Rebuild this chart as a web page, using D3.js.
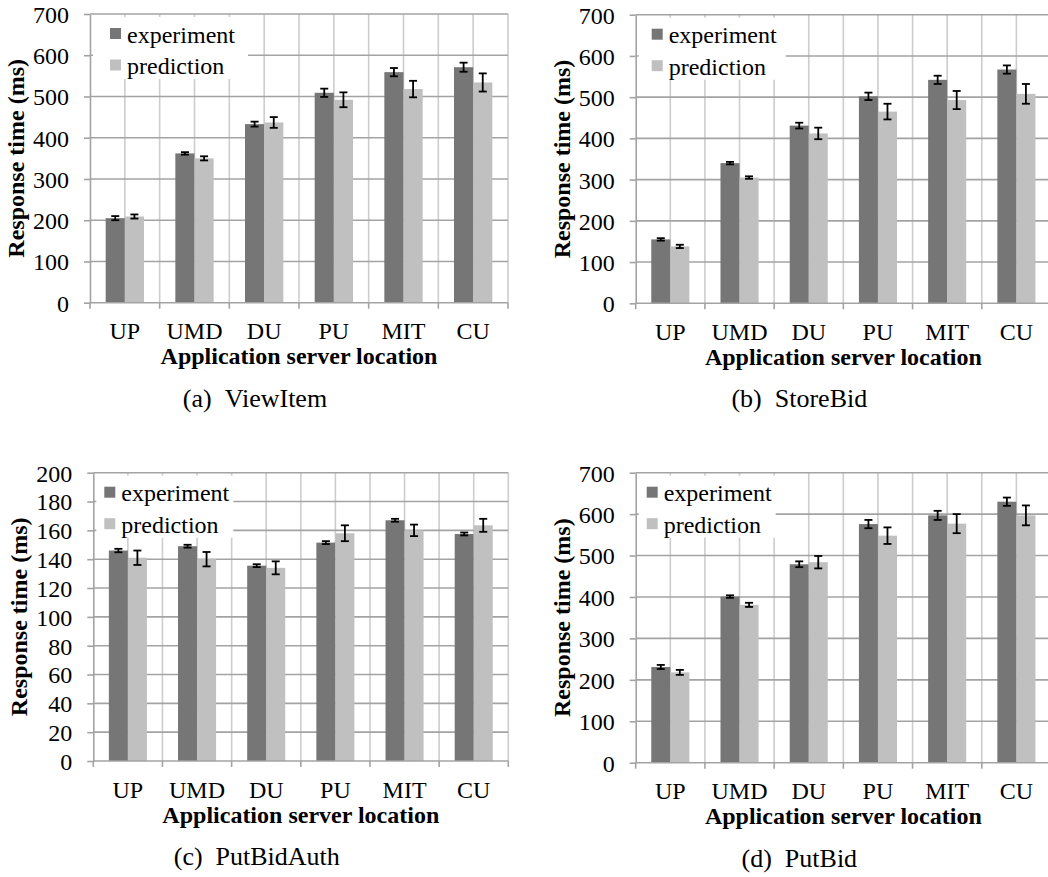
<!DOCTYPE html>
<html>
<head>
<meta charset="utf-8">
<script src="https://cdn.jsdelivr.net/npm/d3@7"></script>
<style>
  html, body { margin: 0; padding: 0; background: #fff; }
  svg { display: block; }
  svg text { font-family: "Liberation Serif", "Times New Roman", Times, serif !important; fill: #000; }
</style>
</head>
<body>
<svg id="chart" width="1048" height="877" font-family="Liberation Serif, Times New Roman, serif"></svg>
<script>
// Categories and series shared by all four panels
const categories = ["UP", "UMD", "DU", "PU", "MIT", "CU"];
const series = ["experiment", "prediction"];

// (a) ViewItem, ms
const viewItemExp      = [205, 362, 433, 509, 559, 571];
const viewItemExpErr   = [5, 3, 6, 10, 10, 11];
const viewItemPred     = [209, 350, 437, 492, 518, 534];
const viewItemPredErr  = [5, 5, 13, 18, 20, 22];

// (b) StoreBid, ms
const storeBidExp      = [155, 340, 431, 502, 542, 567];
const storeBidExpErr   = [3, 3, 7, 9, 10, 10];
const storeBidPred     = [138, 305, 412, 465, 493, 508];
const storeBidPredErr  = [4, 3, 14, 19, 22, 24];

// (c) PutBidAuth, ms
const putBidAuthExp     = [146, 149, 135.5, 151.5, 167, 157.5];
const putBidAuthExpErr  = [1.2, 1, 1, 1, 1, 1];
const putBidAuthPred    = [141, 140, 134, 158, 160, 163.5];
const putBidAuthPredErr = [5, 5, 4.5, 5.5, 4, 4.5];

// (d) PutBid, ms
const putBidExp      = [231, 401, 479, 576, 597, 630];
const putBidExpErr   = [5, 3, 7, 10, 11, 10];
const putBidPred     = [218, 381, 484, 548, 577, 597];
const putBidPredErr  = [6, 5, 15, 20, 23, 24];

// Y tick values per panel
const ticks700 = [0, 100, 200, 300, 400, 500, 600, 700];
const ticks200 = [0, 20, 40, 60, 80, 100, 120, 140, 160, 180, 200];

const yTitle = "Response time (ms)";
const xTitle = "Application server location";

const FONT = "'Liberation Serif', 'Times New Roman', Times, serif";
const colors = { experiment: "#767676", prediction: "#c0c0c0" };
const hGridColor = "#a3a3a3";
const vGridColor = "#cdcdcd";

const svg = d3.select("#chart");

function label(sel) {
  return sel.attr("font-family", FONT).style("font-family", FONT).attr("fill", "#000");
}

function drawPanel(p) {
  const g = svg.append("g");
  const y = d3.scaleLinear().domain([0, p.ticks[p.ticks.length - 1]]).range([p.yZero, p.yTop]);
  const x = d3.scaleBand().domain(categories).range([p.x0, p.x1]);
  const bw = x.bandwidth();
  const xs = d3.scaleBand().domain(series).range([0, bw]).paddingOuter(0.818);

  // vertical gridlines at category edges and centres
  const vLines = [];
  categories.forEach(c => { vLines.push(x(c)); vLines.push(x(c) + bw / 2); });
  vLines.push(p.x1);
  g.append("g").selectAll("line").data(vLines.slice(1)).join("line")
    .attr("x1", d => d).attr("x2", d => d)
    .attr("y1", p.yTop).attr("y2", p.yZero)
    .attr("stroke", vGridColor).attr("stroke-width", 1.6);

  // horizontal gridlines
  g.append("g").selectAll("line").data(p.ticks.slice(1)).join("line")
    .attr("x1", p.x0).attr("x2", p.x1)
    .attr("y1", d => y(d)).attr("y2", d => y(d))
    .attr("stroke", hGridColor).attr("stroke-width", 1.6);

  // bars
  const rows = categories.map((c, i) => ({
    cat: c,
    vals: [
      { s: "experiment", v: p.exp[i], e: p.expErr[i] },
      { s: "prediction", v: p.pred[i], e: p.predErr[i] }
    ]
  }));
  const groups = g.append("g").selectAll("g").data(rows).join("g")
    .attr("transform", d => `translate(${x(d.cat)},0)`);
  groups.selectAll("rect").data(d => d.vals).join("rect")
    .attr("x", d => xs(d.s)).attr("width", xs.bandwidth())
    .attr("y", d => y(d.v)).attr("height", d => y(0) - y(d.v))
    .attr("fill", d => colors[d.s]);

  // error bars
  const eb = groups.selectAll("g.err").data(d => d.vals).join("g").attr("class", "err");
  const cx = d => xs(d.s) + xs.bandwidth() / 2;
  eb.append("line")
    .attr("x1", cx).attr("x2", cx)
    .attr("y1", d => y(d.v - d.e)).attr("y2", d => y(d.v + d.e))
    .attr("stroke", "#000").attr("stroke-width", 1.8);
  [-1, 1].forEach(sgn => {
    eb.append("line")
      .attr("x1", d => cx(d) - 4).attr("x2", d => cx(d) + 4)
      .attr("y1", d => y(d.v + sgn * d.e)).attr("y2", d => y(d.v + sgn * d.e))
      .attr("stroke", "#000").attr("stroke-width", 1.8);
  });

  // y axis
  const yAxis = g.append("g").attr("transform", `translate(${p.x0},0)`)
    .call(d3.axisLeft(y).tickValues(p.ticks).tickSize(6).tickSizeOuter(0).tickPadding(15));
  yAxis.attr("font-family", FONT).attr("font-size", 24);
  yAxis.select(".domain").attr("stroke", hGridColor).attr("stroke-width", 1.6);
  yAxis.selectAll(".tick line").attr("stroke", hGridColor).attr("stroke-width", 1.6);
  label(yAxis.selectAll(".tick text")).attr("font-size", 24).attr("dy", "0.35em");

  // x axis line and boundary ticks
  g.append("line").attr("x1", p.x0).attr("x2", p.x1)
    .attr("y1", y(0)).attr("y2", y(0))
    .attr("stroke", hGridColor).attr("stroke-width", 1.6);
  const edges = categories.map(c => x(c)).concat([p.x1]);
  g.append("g").selectAll("line").data(edges).join("line")
    .attr("x1", d => d).attr("x2", d => d)
    .attr("y1", y(0)).attr("y2", y(0) + 6)
    .attr("stroke", hGridColor).attr("stroke-width", 1.6);
  label(g.append("g").selectAll("text").data(categories).join("text"))
    .attr("x", d => x(d) + bw / 2).attr("y", y(0) + 36.5)
    .attr("text-anchor", "middle").attr("font-size", 24).text(d => d);

  // axis titles
  const cxPlot = (p.x0 + p.x1) / 2;
  label(g.append("text")).attr("x", cxPlot).attr("y", y(0) + 61.5)
    .attr("text-anchor", "middle").attr("font-size", 24).attr("font-weight", "bold")
    .text(xTitle);
  label(g.append("text"))
    .attr("transform", `translate(${p.x0 - 66},${(p.yTop + p.yZero) / 2}) rotate(-90)`)
    .attr("text-anchor", "middle").attr("font-size", 24).attr("font-weight", "bold")
    .text(yTitle);

  // legend
  const lg = g.append("g");
  lg.append("rect").attr("x", p.x0 + 3).attr("y", p.yTop + 3)
    .attr("width", p.legendW).attr("height", 62).attr("fill", "#fff");
  const rowsY = [p.yTop + 19.5, p.yTop + 51];
  series.forEach((s, i) => {
    lg.append("rect").attr("x", p.x0 + p.legendX).attr("y", rowsY[i] - 5.5)
      .attr("width", 11).attr("height", 11).attr("fill", colors[s]);
    label(lg.append("text")).attr("x", p.x0 + p.legendX + 17).attr("y", rowsY[i] + 9)
      .attr("font-size", 24).text(s);
  });

  // caption
  label(g.append("text")).attr("x", cxPlot - 44).attr("y", y(0) + 104)
    .attr("text-anchor", "middle").attr("font-size", 26)
    .text(p.caption);
}

drawPanel({ x0: 90, x1: 508, yTop: 14, yZero: 302.7, ticks: ticks700,
  exp: viewItemExp, expErr: viewItemExpErr, pred: viewItemPred, predErr: viewItemPredErr,
  legendX: 20, legendW: 155, caption: "(a)\u00A0\u00A0ViewItem" });
drawPanel({ x0: 635.7, x1: 1051, yTop: 14.7, yZero: 303.3, ticks: ticks700,
  exp: storeBidExp, expErr: storeBidExpErr, pred: storeBidPred, predErr: storeBidPredErr,
  legendX: 16, legendW: 147, caption: "(b)\u00A0\u00A0StoreBid" });
drawPanel({ x0: 93.3, x1: 508.3, yTop: 472.7, yZero: 761, ticks: ticks200,
  exp: putBidAuthExp, expErr: putBidAuthExpErr, pred: putBidAuthPred, predErr: putBidAuthPredErr,
  legendX: 11, legendW: 137, caption: "(c)\u00A0\u00A0PutBidAuth" });
drawPanel({ x0: 635.7, x1: 1051, yTop: 472.7, yZero: 762.7, ticks: ticks700,
  exp: putBidExp, expErr: putBidExpErr, pred: putBidPred, predErr: putBidPredErr,
  legendX: 11, legendW: 137, caption: "(d)\u00A0\u00A0PutBid" });
</script>
</body>
</html>
